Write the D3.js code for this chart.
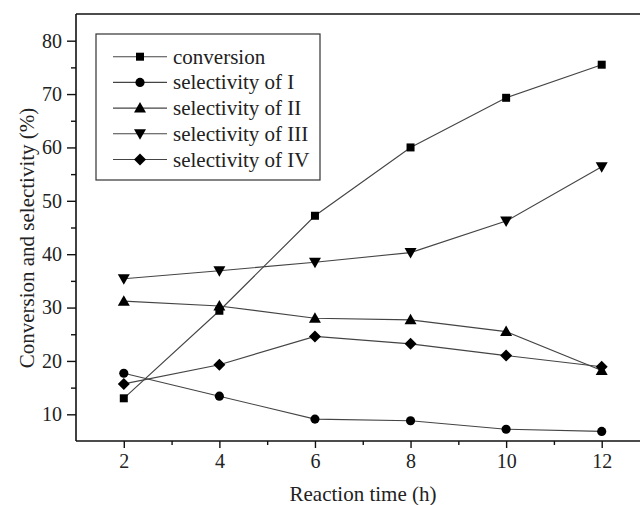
<!DOCTYPE html>
<html><head><meta charset="utf-8">
<script src="https://cdn.jsdelivr.net/npm/d3@7"></script>
<style>body{margin:0;background:#fff}svg{display:block}</style>
</head><body>
<svg id="c" width="640" height="505"></svg>
<script>
const times = [2, 4, 6, 8, 10, 12];
const conversion = [13.0, 29.4, 47.2, 60.0, 69.3, 75.5];
const selI = [17.7, 13.4, 9.1, 8.8, 7.2, 6.8];
const selII = [31.2, 30.3, 28.0, 27.7, 25.5, 18.2];
const selIII = [35.4, 36.9, 38.5, 40.3, 46.2, 56.4];
const selIV = [15.7, 19.3, 24.6, 23.2, 21.0, 18.9];
const seriesNames = ["conversion", "selectivity of I", "selectivity of II", "selectivity of III", "selectivity of IV"];
const seriesSymbols = ["square", "circle", "triangle", "triangleDown", "diamond"];
const xTicks = [2, 4, 6, 8, 10, 12];
const yTicks = [10, 20, 30, 40, 50, 60, 70, 80];

const series = [conversion, selI, selII, selIII, selIV].map((v, i) => ({name: seriesNames[i], sym: seriesSymbols[i], values: v}));

const svg = d3.select("#c");
const L = 76, T = 14, B = 441;
const x = d3.scaleLinear().domain([1, 13]).range([L, 649.5]);
const y = d3.scaleLinear().domain([5, 85]).range([B, T]);
const font = "'Liberation Serif', 'Times New Roman', serif";
const lineCol = "#444";

function symPath(sym) {
  switch (sym) {
    case "square": return d3.symbol(d3.symbolSquare, 64)();
    case "circle": return d3.symbol(d3.symbolCircle, 66)();
    case "triangle": return "M0,-6L6,4.5L-6,4.5Z";
    case "triangleDown": return "M0,6L6,-4.5L-6,-4.5Z";
    case "diamond": return "M0,-6L6,0L0,6L-6,0Z";
  }
}

// lines
const line = d3.line().x((d, i) => x(times[i])).y(d => y(d));
series.forEach(s => {
  svg.append("path").attr("d", line(s.values)).attr("fill", "none")
    .attr("stroke", lineCol).attr("stroke-width", 1.1);
});
series.forEach(s => {
  svg.append("g").selectAll("path").data(s.values).join("path")
    .attr("d", symPath(s.sym))
    .attr("transform", (d, i) => `translate(${x(times[i])},${y(d)})`)
    .attr("fill", "#000");
});

// axes
const yAxis = d3.axisLeft(y).tickValues(yTicks).tickSize(9).tickSizeOuter(0).tickPadding(5);
const gy = svg.append("g").attr("transform", `translate(${L},0)`).call(yAxis);
const yMinor = d3.axisLeft(y).tickValues(d3.range(15, 85, 10)).tickSize(5).tickFormat("").tickSizeOuter(0);
svg.append("g").attr("transform", `translate(${L},0)`).call(yMinor).select(".domain").remove();

const xAxis = d3.axisBottom(x).tickValues(xTicks).tickSize(7).tickSizeOuter(0).tickPadding(6);
const gx = svg.append("g").attr("transform", `translate(0,${B})`).call(xAxis);
const xMinor = d3.axisBottom(x).tickValues([3, 5, 7, 9, 11]).tickSize(4).tickFormat("").tickSizeOuter(0);
svg.append("g").attr("transform", `translate(0,${B})`).call(xMinor).select(".domain").remove();

svg.selectAll(".tick line").attr("stroke", "#111").attr("stroke-width", 1.4);
svg.selectAll(".domain").remove();
svg.selectAll(".tick text").attr("font-family", font).attr("font-size", 20).attr("fill", "#222");

// frame lines
svg.append("line").attr("x1", L).attr("x2", L).attr("y1", T).attr("y2", B).attr("stroke", "#111").attr("stroke-width", 1.6);
svg.append("line").attr("x1", L).attr("x2", 640).attr("y1", T).attr("y2", T).attr("stroke", "#111").attr("stroke-width", 1.6);
svg.append("line").attr("x1", L).attr("x2", 640).attr("y1", B).attr("y2", B).attr("stroke", "#111").attr("stroke-width", 1.6);

// titles
svg.append("text").attr("x", 363).attr("y", 501).attr("text-anchor", "middle")
  .attr("font-family", font).attr("font-size", 21).attr("fill", "#222").text("Reaction time (h)");
svg.append("text").attr("transform", "translate(34,238) rotate(-90)").attr("text-anchor", "middle")
  .attr("font-family", font).attr("font-size", 21).attr("fill", "#222").text("Conversion and selectivity (%)");

// legend
svg.append("rect").attr("x", 96).attr("y", 34).attr("width", 224).attr("height", 146)
  .attr("fill", "#fff").attr("stroke", "#333").attr("stroke-width", 1.2);
series.forEach((s, i) => {
  const cy = 56.7 + i * 25.7;
  svg.append("line").attr("x1", 113).attr("x2", 167).attr("y1", cy).attr("y2", cy).attr("stroke", lineCol).attr("stroke-width", 1.1);
  svg.append("path").attr("d", symPath(s.sym)).attr("transform", `translate(140,${cy})`).attr("fill", "#000");
  svg.append("text").attr("x", 173).attr("y", cy + 7).attr("font-family", font).attr("font-size", 21)
    .attr("fill", "#222").text(s.name);
});
</script>
</body></html>
